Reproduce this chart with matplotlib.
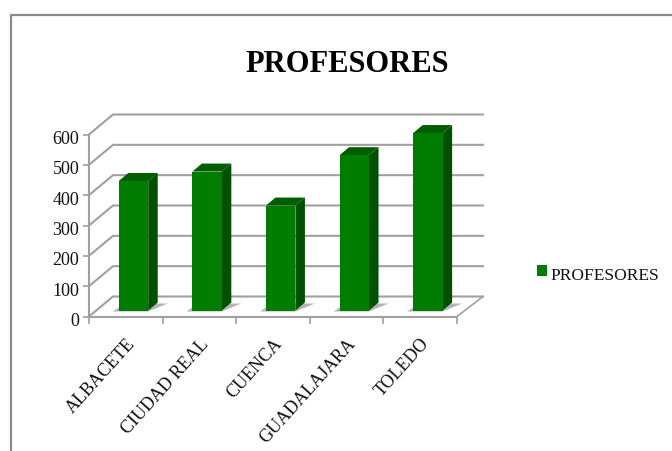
import matplotlib
matplotlib.use('Agg')
import matplotlib.pyplot as plt
from matplotlib.patches import Polygon, Rectangle
from matplotlib.transforms import Affine2D, ScaledTranslation

provincias = ['ALBACETE', 'CIUDAD REAL', 'CUENCA', 'GUADALAJARA', 'TOLEDO']
profesores = [427, 458, 346, 512, 585]
yticks = [0, 100, 200, 300, 400, 500, 600]

W, H = 672, 452
GRIS = '#a0a0a0'
FUENTE = 'Liberation Serif'

plt.rcParams['font.family'] = FUENTE

fig = plt.figure(figsize=(W / 100, H / 100), dpi=100)

# marco del grafico (solo arriba y a la izquierda llegan a verse)
fig.add_artist(plt.Line2D([10.5 / W, 10.5 / W, 1], [0, 1 - 15.5 / H, 1 - 15.5 / H],
                          color='#8a8a8a', lw=1.6, transform=fig.transFigure))

# el axes es el plano frontal: x 89..457, y 317..135 en pixeles
ax = fig.add_axes([89 / W, 1 - 317.5 / H, 368 / W, 182 / H])
ax.set_xlim(0, 5)
ax.set_ylim(0, 600)
ax.patch.set_alpha(0)
for s in ['top', 'right']:
    ax.spines[s].set_visible(False)
for s in ['left', 'bottom']:
    ax.spines[s].set_color(GRIS)
    ax.spines[s].set_linewidth(1.5)

ax.set_yticks(yticks)
ax.set_xticks(range(6))
ax.set_xticklabels([])
ax.set_xticks([i + 0.5 for i in range(5)], minor=True)
ax.set_xticklabels(provincias, minor=True, rotation=48, ha='right', va='top',
                   rotation_mode='anchor', fontsize=13, color='#111111')
ax.tick_params(axis='x', which='major', length=5, width=1.2, color=GRIS)
ax.tick_params(axis='x', which='minor', length=0, pad=13)
ax.tick_params(axis='y', length=4, width=1.2, color=GRIS, labelsize=13, pad=3,
               labelcolor='#111111')
# los numeros del eje van un poco mas abajo que la marca
baja = ScaledTranslation(0, -1.5 / 72, fig.dpi_scale_trans)
for lab in ax.get_yticklabels():
    lab.set_transform(lab.get_transform() + baja)


def px(x, v, dx=0, dy=0):
    # dato -> pixel de pantalla, con desplazamiento de la perspectiva
    a, b = ax.transData.transform((x, v))
    return (a + dx, b + dy)


def poli(puntos, **kw):
    ax.add_patch(Polygon(puntos, closed=True, transform=Affine2D(), clip_on=False, **kw))


# paredes: rejilla del fondo y diagonales de la pared izquierda
FX, FY = 24, 20
for v in yticks:
    ax.add_line(plt.Line2D(*zip(px(0, v), px(0, v, FX, FY), px(5, v, 26, FY)),
                           color=GRIS, lw=1.5, transform=Affine2D(), clip_on=False, zorder=1))
ax.add_line(plt.Line2D(*zip(px(5, 0), px(5, 0, 26, FY)), color=GRIS, lw=1.2,
                       transform=Affine2D(), clip_on=False, zorder=1))

# barras: cara frontal + lateral + tapa, mas la sombra sobre el suelo
OX, OY = 7.7, 6
ANCHO = 0.4
PX, PY = 9.5, 8
for i, v in enumerate(profesores):
    x0, x1 = i + 0.5 - ANCHO / 2, i + 0.5 + ANCHO / 2
    poli([px(x0, 0, OX - 6, OY - 1), px(x1, 0, OX, OY - 1), px(x1, 0, OX + PX + 10, OY + PY - 1),
          px(x0, 0, OX + 6, OY + PY - 1)], fc='#b4b4b4', ec='none', zorder=2)
    poli([px(x0, 0, OX, OY), px(x1, 0, OX, OY), px(x1, v, OX, OY), px(x0, v, OX, OY)],
         fc='#007c00', ec='none', zorder=4)
    poli([px(x1, 0, OX, OY), px(x1, 0, OX + PX, OY + PY), px(x1, v, OX + PX, OY + PY), px(x1, v, OX, OY)],
         fc='#005000', ec='none', zorder=3)
    poli([px(x0, v, OX, OY), px(x1, v, OX, OY), px(x1, v, OX + PX, OY + PY), px(x0, v, OX + PX, OY + PY)],
         fc='#005e00', ec='none', zorder=3)

fig.text(347.5 / W, 1 - 61.5 / H, 'PROFESORES', fontsize=22, fontweight='bold',
         ha='center', va='center_baseline', color='black')

# leyenda
fig.add_artist(Rectangle((537 / W, 1 - 277 / H), 10 / W, 11 / H, fc='#007c00', ec='none',
                         transform=fig.transFigure))
fig.text(550 / W, 1 - 276.5 / H, 'PROFESORES', fontsize=12.5, ha='left', va='center', color='#111111')

fig.savefig('out.png', dpi=100)
